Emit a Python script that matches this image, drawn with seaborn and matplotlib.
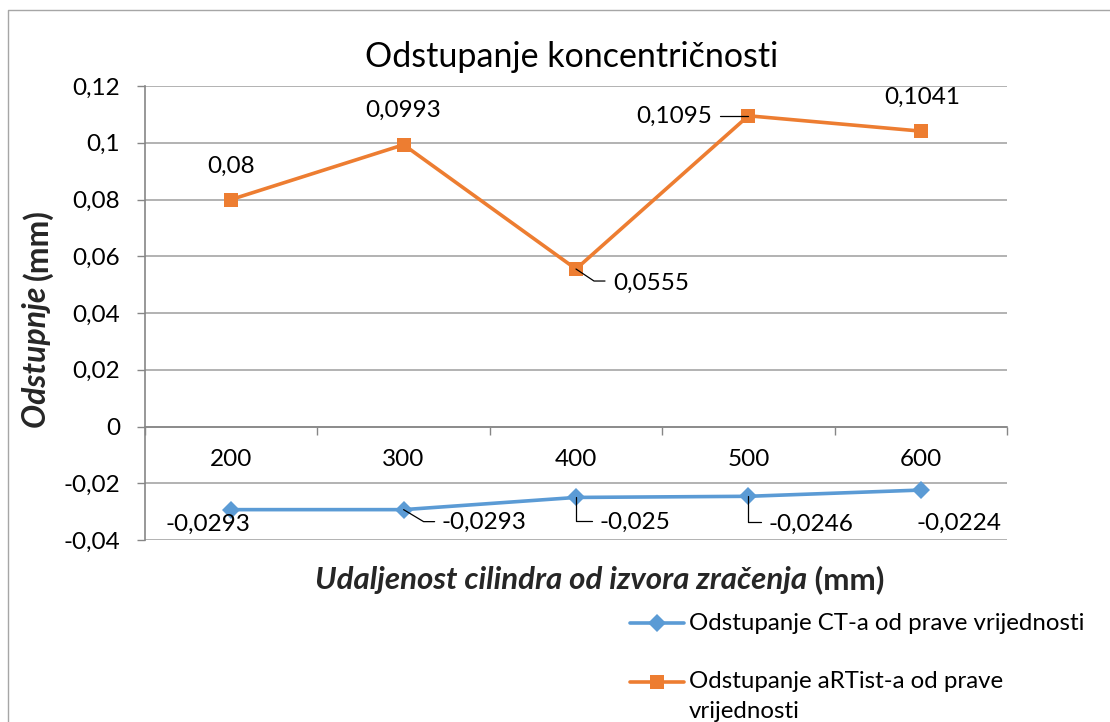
import matplotlib
matplotlib.use("Agg")
import matplotlib.pyplot as plt
from matplotlib.lines import Line2D
from matplotlib.transforms import IdentityTransform
import numpy as np
import pandas as pd
import seaborn as sns

# ---------------- data ----------------
categories = ["200", "300", "400", "500", "600"]
ct_values = [-0.0293, -0.0293, -0.025, -0.0246, -0.0224]
artist_values = [0.08, 0.0993, 0.0555, 0.1095, 0.1041]
series_names = ["Odstupanje CT-a od prave vrijednosti",
                "Odstupanje aRTist-a od prave vrijednosti"]
y_ticks = [-0.04, -0.02, 0.0, 0.02, 0.04, 0.06, 0.08, 0.1, 0.12]
title_text = "Odstupanje koncentričnosti"
xlabel_main, xlabel_unit = "Udaljenost cilindra od izvora zračenja", "(mm)"
ylabel_main, ylabel_unit = "Odstupnje", "(mm)"

BLUE = "#5B9BD5"
ORANGE = "#ED7D31"
GRID = "#A6A6A6"
AXIS = "#868686"
NUM_FS = 17.5
TXT_FS = 17.3


def fmt(v):
    s = f"{v:g}".replace(".", ",")
    return "0" if s in ("-0", "0") else s


sns.set_style("white")
plt.rcParams["font.family"] = ["Lato", "DejaVu Sans"]

W, H = 1110, 722
fig = plt.figure(figsize=(W / 100, H / 100), dpi=100)
fig.patch.set_facecolor("white")

# plot area in pixels: x 145..1007, y 86..540
ax = fig.add_axes([145 / W, 1 - 540 / H, (1007 - 145) / W, (540 - 86) / H])

df = pd.DataFrame({
    "cat": categories * 2,
    "val": ct_values + artist_values,
    "series": [series_names[0]] * len(categories) + [series_names[1]] * len(categories),
})

sns.pointplot(data=df, x="cat", y="val", hue="series", order=categories,
              hue_order=series_names, palette=[BLUE, ORANGE],
              markers=["D", "s"], linestyles=["-", "-"], errorbar=None,
              legend=False, ax=ax, linewidth=2.6, markersize=9,
              markeredgewidth=0)

lines = [l for l in ax.lines if len(l.get_xdata()) == len(categories)]
for ln, ms in zip(lines, [9, 10]):
    ln.set_markersize(ms)
    ln.set_markeredgewidth(0)
    ln.set_zorder(5)

ax.set_xlim(-0.5, len(categories) - 0.5)
ax.set_ylim(y_ticks[0], y_ticks[-1])

# y axis
ax.set_yticks(y_ticks)
ax.set_yticklabels([fmt(v) for v in y_ticks])
ax.yaxis.grid(True, color=GRID, linewidth=1.2)
ax.xaxis.grid(False)
ax.tick_params(axis="y", which="major", left=True, length=6, width=1.0,
               color=AXIS, pad=12, labelsize=NUM_FS, labelcolor="black")

# x axis at zero
for s in ["top", "right"]:
    ax.spines[s].set_visible(False)
ax.spines["left"].set_color(AXIS)
ax.spines["left"].set_linewidth(1.2)
ax.spines["bottom"].set_position(("data", 0))
ax.spines["bottom"].set_color(AXIS)
ax.spines["bottom"].set_linewidth(1.2)
ax.set_xticks(range(len(categories)))
ax.set_xticklabels(categories)
ax.set_xticks(np.arange(-0.5, len(categories), 1.0), minor=True)
ax.tick_params(axis="x", which="major", length=0, pad=16, labelsize=NUM_FS,
               labelcolor="black")
ax.tick_params(axis="x", which="minor", bottom=True, length=6, width=1.0,
               color=AXIS)
ax.set_xlabel("")
ax.set_ylabel("")

# data labels (offsets in pixels: text centre relative to point)
art_offsets = [(0, 33), (0, 34), (75, -14), (-74, -1), (1, 34)]
ct_offsets = [(-23, -15), (80, -13), (59, -25), (63, -28), (38, -33)]
for vals, offs in ((artist_values, art_offsets), (ct_values, ct_offsets)):
    for i, (v, o) in enumerate(zip(vals, offs)):
        ax.annotate(fmt(v), xy=(i, v), xytext=o, textcoords="offset pixels",
                    ha="center", va="center", fontsize=NUM_FS, color="black",
                    annotation_clip=False, zorder=6)

# leader lines (pixel offsets relative to point)
leaders = [
    (artist_values, 2, [(0, 0), (18, -12), (29, -12)]),
    (artist_values, 3, [(-28, 0), (0, 0)]),
    (ct_values, 1, [(0, 0), (20, -12), (31, -12)]),
    (ct_values, 2, [(0, 0), (0, -24), (16, -24)]),
    (ct_values, 3, [(0, 0), (0, -26), (13, -26)]),
]
for vals, i, pts in leaders:
    px, py = ax.transData.transform((i, vals[i]))
    fig.add_artist(Line2D([px + d[0] for d in pts], [py + d[1] for d in pts],
                          transform=IdentityTransform(), color="black",
                          linewidth=0.9, zorder=4))

# title
fig.text(572 / W, 1 - 57 / H, title_text, ha="center", va="center",
         fontsize=24.5, color="black")

fig.canvas.draw()
renderer = fig.canvas.get_renderer()

# x axis title: bold italic + bold
t1 = fig.text(0, 1 - 580 / H, xlabel_main, ha="left", va="center",
              fontsize=22.5, fontweight="bold", fontstyle="italic")
t2 = fig.text(0, 1 - 580 / H, " " + xlabel_unit, ha="left", va="center",
              fontsize=22.5, fontweight="bold")
w1 = t1.get_window_extent(renderer).width
w2 = t2.get_window_extent(renderer).width
x0 = 600 - (w1 + w2) / 2
t1.set_x(x0 / W)
t2.set_x((x0 + w1) / W)

# y axis title (rotated): starts at bottom y=428 px
y1 = fig.text(37 / W, 1 - 428 / H, ylabel_main + " ", rotation=90,
              ha="center", va="bottom", fontsize=23, fontweight="bold",
              fontstyle="italic")
h1 = y1.get_window_extent(renderer).height
fig.text(37 / W, (H - 428 + h1) / H, ylabel_unit, rotation=90,
         ha="center", va="bottom", fontsize=23, fontweight="bold")

# legend (manual, Excel-like wrapping)
leg_items = [(BLUE, "D", 9, [series_names[0]], 623),
             (ORANGE, "s", 10, ["Odstupanje aRTist-a od prave", "vrijednosti"], 682)]
for col, mk, ms, text_lines, ypix in leg_items:
    yf = H - ypix
    fig.add_artist(Line2D([630, 684], [yf, yf], transform=IdentityTransform(),
                          color=col, linewidth=2.6))
    fig.add_artist(Line2D([657], [yf], transform=IdentityTransform(),
                          color=col, marker=mk, markersize=ms,
                          markeredgewidth=0, linestyle="none"))
    for k, tl in enumerate(text_lines):
        fig.text(689 / W, (yf - k * 30) / H, tl, ha="left", va="center",
                 fontsize=TXT_FS, color="black")

# chart border (left and top visible)
fig.add_artist(Line2D([8, 8, W + 5], [-5, H - 9.5, H - 9.5],
                      transform=IdentityTransform(), color="#A6A6A6",
                      linewidth=1.0))

fig.savefig("out.png", dpi=100, facecolor="white")
